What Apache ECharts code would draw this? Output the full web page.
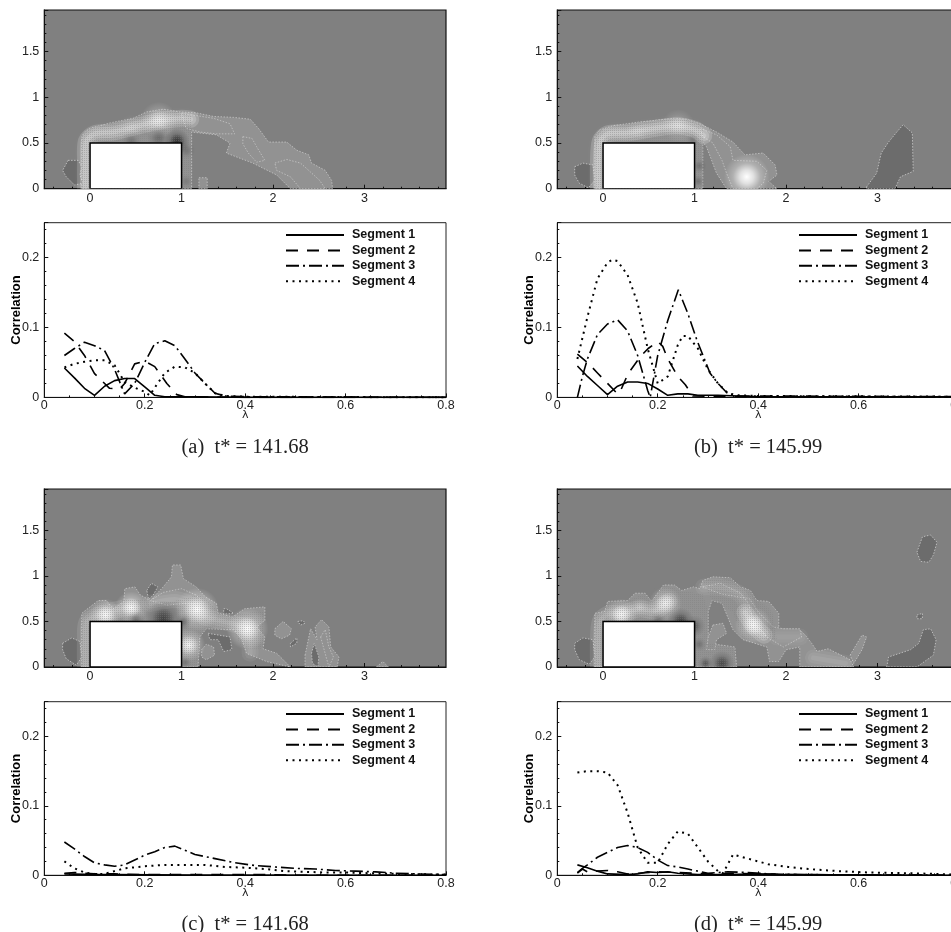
<!DOCTYPE html>
<html><head><meta charset="utf-8">
<style>html,body{margin:0;padding:0;background:#fff}#c{width:951px;height:932px}</style>
<script src="https://cdn.jsdelivr.net/npm/echarts@6/dist/echarts.min.js"></script></head>
<body><div id="c"></div>
<script>
// ---------- correlation curves: [lambda, correlation] ----------
const a1=[[.04,.042],[.06,.028],[.08,.013],[.10,.003],[.12,.016],[.14,.024],[.16,.027],[.18,.027],[.20,.015],[.22,.003],[.24,.001],[.30,.001],[.35,.0005],[.4,0],[.8,0]];
const a2=[[.04,.092],[.06,.08],[.08,.06],[.10,.034],[.13,.013],[.15,.012],[.16,.02],[.18,.048],[.20,.052],[.22,.044],[.244,.02],[.264,.004],[.28,.001],[.4,0],[.8,0]];
const a3=[[.04,.06],[.06,.07],[.08,.079],[.10,.074],[.12,.067],[.14,.04],[.16,.005],[.18,.02],[.20,.05],[.22,.077],[.24,.081],[.26,.074],[.28,.055],[.30,.035],[.32,.02],[.34,.006],[.36,.002],[.4,.001],[.8,0]];
const a4=[[.04,.043],[.06,.048],[.08,.051],[.10,.053],[.12,.053],[.14,.046],[.16,.022],[.18,.014],[.20,.008],[.21,.003],[.22,.014],[.24,.035],[.26,.044],[.28,.043],[.30,.035],[.32,.02],[.34,.006],[.36,.002],[.4,.001],[.8,0]];
const b1=[[.04,.045],[.06,.03],[.08,.017],[.10,.004],[.12,.016],[.14,.022],[.16,.022],[.18,.02],[.20,.012],[.22,.003],[.24,.005],[.26,.005],[.28,.003],[.32,.003],[.36,.002],[.4,.001],[.8,.001]];
const b2=[[.04,.062],[.06,.05],[.08,.035],[.10,.02],[.12,.005],[.125,.008],[.141,.034],[.165,.058],[.181,.07],[.20,.08],[.21,.073],[.22,.055],[.24,.03],[.255,.018],[.27,.002],[.4,.001],[.8,.001]];
const b3=[[.04,0],[.05,.03],[.06,.055],[.08,.09],[.10,.105],[.12,.111],[.14,.095],[.16,.06],[.18,.01],[.185,0],[.19,.02],[.20,.06],[.22,.11],[.241,.154],[.26,.12],[.278,.082],[.304,.035],[.32,.02],[.34,.005],[.36,.002],[.4,.002],[.8,.001]];
const b4=[[.04,.055],[.06,.115],[.08,.17],[.10,.193],[.11,.197],[.12,.195],[.14,.175],[.16,.135],[.18,.07],[.20,.02],[.22,.03],[.24,.075],[.25,.088],[.26,.088],[.28,.07],[.30,.04],[.32,.02],[.34,.006],[.36,.003],[.4,.002],[.8,.001]];
const c1=[[.04,.002],[.1,.001],[.14,.001],[.3,.0005],[.8,0]];
const c2=[[.04,.003],[.06,.004],[.1,.002],[.14,.002],[.2,.001],[.3,.001],[.44,.001],[.5,0],[.8,0]];
const c3=[[.04,.048],[.06,.038],[.08,.027],[.10,.018],[.12,.015],[.14,.013],[.16,.015],[.18,.022],[.20,.029],[.22,.034],[.24,.04],[.26,.042],[.28,.036],[.30,.03],[.34,.024],[.38,.018],[.42,.014],[.46,.012],[.5,.01],[.54,.009],[.58,.007],[.62,.006],[.66,.005],[.7,.003],[.74,.002],[.8,.001]];
const c4=[[.04,.02],[.06,.01],[.08,.004],[.10,.002],[.12,.002],[.14,.006],[.16,.01],[.2,.013],[.24,.015],[.28,.015],[.32,.015],[.36,.012],[.4,.011],[.44,.009],[.48,.006],[.52,.005],[.56,.004],[.6,.004],[.7,.002],[.8,.001]];
const d1=[[.04,.015],[.06,.011],[.08,.006],[.10,.002],[.14,.001],[.16,.002],[.18,.005],[.2,.004],[.22,.005],[.24,.003],[.28,.001],[.34,.001],[.4,.002],[.44,.001],[.8,0]];
const d2=[[.04,.003],[.05,.009],[.06,.005],[.08,.006],[.10,.007],[.12,.005],[.14,.002],[.16,.003],[.2,.005],[.24,.004],[.3,.002],[.35,.003],[.4,.002],[.5,.001],[.8,0]];
const d3=[[.04,.004],[.05,.01],[.06,.015],[.08,.026],[.10,.033],[.12,.04],[.14,.043],[.16,.04],[.18,.033],[.2,.022],[.22,.014],[.24,.012],[.26,.009],[.3,.003],[.34,.005],[.38,.004],[.42,.002],[.5,.001],[.8,0]];
const d4=[[.04,.148],[.06,.15],[.08,.15],[.10,.148],[.12,.13],[.14,.09],[.16,.04],[.18,.018],[.2,.018],[.22,.045],[.24,.063],[.26,.06],[.28,.04],[.30,.02],[.32,.006],[.33,.003],[.35,.03],[.38,.024],[.42,.016],[.46,.012],[.5,.009],[.56,.006],[.62,.004],[.7,.003],[.8,.001]];
const segmentNames=['Segment 1','Segment 2','Segment 3','Segment 4'];
const captions=['(a)  t* = 141.68','(b)  t* = 145.99','(c)  t* = 141.68','(d)  t* = 145.99'];

// ---------- field contours (x/h, y/h) ----------
const aLight=[
 [[-.09,0],[-.09,.57],[-.06,.62],[0,.66],[.22,.72],[.47,.77],[.62,.84],[.80,.87],[.98,.84],[1.16,.83],[1.35,.79],[1.57,.78],[1.75,.76],[1.84,.66],[1.95,.51],[2.15,.51],[2.26,.42],[2.39,.37],[2.42,.28],[2.57,.20],[2.64,.09],[2.65,0],[2.19,0],[2.04,.15],[1.78,.28],[1.49,.39],[1.53,.50],[1.38,.59],[1.20,.61],[1.11,.62],[1.11,0]],
 [[1.0,.82],[1.16,.80],[1.35,.77],[1.53,.71],[1.58,.6],[1.38,.6],[1.2,.62],[1.05,.66]],
 [[1.67,.57],[1.77,.55],[1.82,.46],[1.91,.31],[1.82,.29],[1.73,.39],[1.67,.49]],
 [[2.02,.28],[2.15,.32],[2.30,.28],[2.39,.20],[2.51,.09],[2.57,0],[2.30,0],[2.19,.13],[2.04,.2]],
 [[1.19,.12],[1.28,.12],[1.28,0],[1.19,0]]];
const aDark=[[[-.24,.31],[-.13,.31],[-.09,.24],[-.11,.15],[-.08,.06],[-.17,.04],[-.26,.13],[-.30,.20]]];
const aRidge=[[.85,[-.05,0],[-.05,.3],[-.04,.52],[.05,.6],[.25,.62],[.5,.68],[.75,.74],[1,.77],[1.1,.76]]];
const aGlow=[[.75,.75,.2,.6],[.45,.67,.14,.15],[.95,.52,.14,-.65],[.75,.56,.13,-.28],[.45,.52,.11,-.2],[1.05,.42,.1,-.2],[1.05,.08,.08,-.15]];
const aMesh=[[[-.09,0],[-.09,.57],[-.06,.62],[0,.66],[.22,.72],[.47,.77],[.62,.84],[.8,.87],[.98,.84],[1.11,.8],[1.11,0],[1,0],[1,.5],[0,.5],[0,0]]];
const bLight=[
 [[-.09,0],[-.09,.57],[-.04,.64],[.11,.69],[.40,.73],[.77,.77],[.91,.76],[1.06,.71],[1.24,.62],[1.42,.51],[1.55,.37],[1.75,.39],[1.88,.26],[1.90,.15],[1.81,.08],[1.90,0],[1.35,0],[1.24,.17],[1.13,.46],[1.09,.51],[1.09,0]],
 [[1.06,.66],[1.24,.59],[1.39,.46],[1.42,.31],[1.68,.3],[1.79,.2],[1.75,.06],[1.68,0],[1.42,0],[1.35,.17],[1.30,.31],[1.2,.5],[1.09,.57]]];
const bDark=[
 [[-.31,.24],[-.22,.28],[-.11,.26],[-.09,.09],[-.16,.01],[-.26,.06],[-.31,.15]],
 [[2.88,.02],[2.99,.17],[3.04,.39],[3.12,.51],[3.21,.62],[3.28,.70],[3.38,.61],[3.39,.19],[3.25,.13],[3.19,0],[2.88,0]]];
const bRidge=[[.9,[-.05,0],[-.05,.3],[-.03,.52],[.05,.6],[.25,.61],[.5,.65],[.8,.69],[1,.65],[1.1,.58]]];
const bGlow=[[.82,.69,.18,.4],[.38,.63,.13,.15],[1.57,.13,.25,1],[1.05,.25,.08,-.22],[1.04,.08,.07,-.22],[.98,.53,.07,-.15]];
const bMesh=[[[-.09,0],[-.09,.57],[-.04,.64],[.11,.69],[.4,.73],[.77,.77],[.91,.76],[1.09,.69],[1.09,0],[1,0],[1,.5],[0,.5],[0,0]]];
const cLight=[
 [[-.09,0],[-.09,.59],[.09,.73],[.18,.73],[.25,.64],[.37,.72],[.38,.86],[.49,.88],[.55,.79],[.66,.73],[.80,.88],[.89,.99],[.90,1.12],[.99,1.12],[1.02,.97],[1.16,.88],[1.26,.77],[1.38,.70],[1.40,.59],[1.56,.55],[1.69,.64],[1.91,.66],[1.91,.51],[1.82,.44],[1.91,.33],[1.89,.20],[2.04,.15],[2.19,0],[1.93,.06],[1.71,.15],[1.66,.30],[1.57,.41],[1.27,.42],[1.2,.33],[1.18,0]],
 [[.66,.73],[.80,.82],[1.0,.86],[1.16,.79],[1.24,.70],[1.05,.70],[.84,.68]],
 [[1.22,.19],[1.27,.25],[1.35,.22],[1.36,.13],[1.27,.08],[1.22,.11]],
 [[2.02,.42],[2.11,.50],[2.2,.42],[2.18,.35],[2.09,.31],[2.02,.35]],
 [[2.35,.13],[2.41,.42],[2.48,.30],[2.46,.44],[2.53,.52],[2.61,.44],[2.63,.22],[2.72,.11],[2.70,0],[2.35,0]],
 [[2.52,.33],[2.57,.41],[2.61,.22],[2.66,.11],[2.61,0],[2.55,.22]],
 [[3.13,0],[3.2,.06],[3.26,0]]];
const cDark=[
 [[-.30,.26],[-.20,.32],[-.11,.28],[-.09,.11],[-.15,.02],[-.26,.09],[-.3,.19]],
 [[.62,.84],[.67,.92],[.74,.88],[.69,.79],[.64,.74]],
 [[1.29,.37],[1.53,.33],[1.55,.19],[1.46,.17],[1.40,.30],[1.31,.30]],
 [[2.19,.26],[2.26,.32],[2.26,.26],[2.19,.22]],
 [[2.27,.50],[2.33,.51],[2.35,.48],[2.30,.46]],
 [[2.42,.15],[2.45,.26],[2.50,.11],[2.49,0],[2.43,.04]],
 [[1.46,.64],[1.49,.64],[1.57,.59],[1.46,.58]]];
const cRidge=[[.5,[-.05,0],[-.05,.3],[-.03,.5],[.17,.6],[.45,.66]],[.4,[.66,.7],[.95,.74],[1.15,.66]],[.5,[1.25,.55],[1.5,.49],[1.72,.44]],[.28,[1.75,.35],[1.75,.15]]];
const cGlow=[[.17,.57,.18,.9],[.45,.65,.18,.9],[1.17,.63,.24,.95],[1.72,.42,.23,.95],[1.08,.24,.18,.9],[.8,.53,.2,-.55],[.5,.52,.1,-.3],[1.02,.5,.09,-.3],[1.04,.05,.07,-.2]];
const cMesh=[[[-.09,0],[-.09,.59],[.09,.73],[.25,.66],[.37,.75],[.66,.73],[.9,.72],[1.2,.8],[1.4,.62],[1.6,.58],[1.9,.62],[1.9,.2],[1.66,.2],[1.57,.41],[1.27,.42],[1.2,.33],[1.18,0],[1,0],[1,.5],[0,.5],[0,0]]];
const dLight=[
 [[-.09,0],[-.09,.59],[.02,.61],[.05,.72],[.27,.73],[.35,.81],[.46,.81],[.53,.72],[.66,.9],[.78,.9],[.86,.84],[.99,.88],[1.06,.86],[1.09,.95],[1.2,.99],[1.39,.98],[1.5,.88],[1.61,.84],[1.68,.73],[1.81,.72],[1.92,.59],[1.92,.42],[2.15,.41],[2.21,.35],[2.28,.26],[2.34,.17],[2.46,.2],[2.7,.08],[2.74,0],[2.15,0],[2.15,.22],[2.0,.19],[1.92,.06],[1.82,.06],[1.79,.22],[1.53,.3],[1.42,.41],[1.30,.7],[1.19,.73],[1.15,.61],[1.15,.26],[1.44,.22],[1.46,0]],
 [[1.09,.88],[1.28,.92],[1.5,.81],[1.59,.7],[1.64,.51],[1.79,.33],[1.97,.22],[2.17,.33],[2.15,.42],[1.97,.42],[1.86,.44],[1.7,.6],[1.6,.75],[1.3,.8]],
 [[1.2,.46],[1.31,.48],[1.35,.37],[1.24,.3],[1.22,.19],[1.13,.19],[1.15,.33]],
 [[2.7,.13],[2.83,.35],[2.88,.33],[2.83,.19],[2.74,.04]]];
const dDark=[
 [[-.31,.26],[-.22,.32],[-.11,.3],[-.09,.11],[-.15,.03],[-.26,.08],[-.31,.19]],
 [[3.43,1.26],[3.49,1.43],[3.58,1.45],[3.65,1.37],[3.61,1.23],[3.56,1.15],[3.47,1.16]],
 [[3.43,.57],[3.49,.59],[3.49,.53],[3.43,.53]],
 [[3.1,0],[3.12,.11],[3.36,.19],[3.45,.26],[3.5,.41],[3.58,.42],[3.64,.3],[3.61,.13],[3.43,0]]];
const dRidge=[[.5,[-.05,0],[-.05,.3],[-.03,.5],[.05,.58],[.2,.58]],[.6,[.2,.58],[.4,.64],[.57,.62],[.72,.72]],[.3,[1.1,.88],[1.3,.87],[1.5,.8],[1.58,.65]],[.8,[1.55,.6],[1.66,.44],[1.76,.35]],[.22,[1.9,.33],[2.15,.33]],[.3,[2.3,.1],[2.65,.04]]];
const dGlow=[[.2,.58,.17,.75],[.4,.66,.1,.25],[.68,.7,.18,.75],[1.64,.46,.2,.85],[.85,.5,.15,-.55],[.6,.52,.09,-.2],[1.0,.45,.12,-.35],[1.3,.04,.14,-.5],[1.12,.04,.08,-.4],[1.05,.25,.08,-.22]];
const dMesh=[[[-.09,0],[-.09,.59],[.02,.61],[.05,.72],[.27,.73],[.46,.81],[.66,.9],[.86,.84],[1.09,.8],[1.15,.61],[1.15,.26],[1.44,.22],[1.46,0],[1,0],[1,.5],[0,.5],[0,0]],[[1.09,.95],[1.39,.98],[1.61,.84],[1.85,.6],[1.9,.3],[1.53,.3],[1.42,.6],[1.19,.73]]];
const blockBounds=[[0,0,1,.5]];
const fieldMajorX=[0,1,2,3], fieldMinorX=[-.4,-.2,.2,.4,.6,.8,1.2,1.4,1.6,1.8,2.2,2.4,2.6,2.8,3.2,3.4,3.6,3.8];

// ---------- layout ----------
const cols=[44.3,557.3], W=401.7;
const rows=[{ft:10,fh:178.7,ct:222.7,ch:174.7,lt:228.5,cap:437},{ft:489,fh:178,ct:701.7,ch:173.6,lt:707.5,cap:914.5}];
const font='"Liberation Sans",Arial,sans-serif';
const panels=[
 {c:0,r:0,curves:[a1,a2,a3,a4],light:aLight,dark:aDark,ridge:aRidge,glow:aGlow,mesh:aMesh},
 {c:1,r:0,curves:[b1,b2,b3,b4],light:bLight,dark:bDark,ridge:bRidge,glow:bGlow,mesh:bMesh},
 {c:0,r:1,curves:[c1,c2,c3,c4],light:cLight,dark:cDark,ridge:cRidge,glow:cGlow,mesh:cMesh},
 {c:1,r:1,curves:[d1,d2,d3,d4],light:dLight,dark:dDark,ridge:dRidge,glow:dGlow,mesh:dMesh}];
const dashes=['solid',[12,9],[13,4,2,4],[2,4.5]];
const ink='#111', grey='#222';
const opt={animation:false,backgroundColor:'#fff',grid:[],xAxis:[],yAxis:[],series:[],legend:[],title:[]};
const meshTile=document.createElement('canvas');meshTile.width=2;meshTile.height=2;
(function(){const g=meshTile.getContext('2d');g.fillStyle='rgba(128,128,128,.4)';g.fillRect(0,0,1,1);})();

function polySeries(list,x,y,style){return {type:'custom',xAxisIndex:x,yAxisIndex:y,clip:true,silent:true,
 encode:{x:0,y:1},data:list.map((p,i)=>[p[0][0],p[0][1],i]),
 renderItem:(pr,api)=>({type:'polygon',shape:{points:list[api.value(2)].map(q=>api.coord(q))},style})};}
const ridgePasses=[[17,.2],[11,.22],[5,.22]];
function ridgeSeries(list,x,y){return {type:'custom',xAxisIndex:x,yAxisIndex:y,clip:true,silent:true,
 encode:{x:0,y:1},data:list.map((p,i)=>[p[1][0],p[1][1],i]),
 renderItem:(pr,api)=>{const it=list[api.value(2)],pts=it.slice(1).map(q=>api.coord(q));
  return {type:'group',children:ridgePasses.map(([w,k])=>{const col=`rgba(255,255,255,${it[0]*k})`;
   return {type:'polyline',shape:{points:pts,smooth:.3},
    style:{fill:null,stroke:col,lineWidth:w,lineCap:'round',lineJoin:'round',shadowBlur:6,shadowColor:col}};})};}};}
function glowSeries(list,x,y){return {type:'custom',xAxisIndex:x,yAxisIndex:y,clip:true,silent:true,
 encode:{x:0,y:1},data:list,
 renderItem:(pr,api)=>{const c=api.coord([api.value(0),api.value(1)]),r=api.size([api.value(2),0])[0],a=api.value(3),
  rgb=a>0?'255,255,255':'0,0,0',k=Math.abs(a);
  return {type:'circle',shape:{cx:c[0],cy:c[1],r},style:{fill:{type:'radial',x:.5,y:.5,r:.5,colorStops:[
   {offset:0,color:`rgba(${rgb},${k})`},{offset:.3,color:`rgba(${rgb},${k*.72})`},{offset:.6,color:`rgba(${rgb},${k*.28})`},{offset:1,color:`rgba(${rgb},0)`}]}}};}};}
function blockSeries(x,y){return {type:'custom',xAxisIndex:x,yAxisIndex:y,clip:true,silent:true,encode:{x:0,y:1},data:blockBounds,z:5,
 renderItem:(pr,api)=>{const p=api.coord([api.value(0),api.value(3)]),q=api.coord([api.value(2),api.value(1)]);
  return {type:'rect',shape:{x:p[0],y:p[1],width:q[0]-p[0],height:q[1]-p[1]},style:{fill:'#fff',stroke:'#000',lineWidth:1.5}};}};}

panels.forEach((p,i)=>{
 const L=cols[p.c],R=rows[p.r];
 const gF=opt.grid.length; 
 opt.grid.push({left:L,top:R.ft,width:W,height:R.fh,outerBoundsMode:'none',show:true,backgroundColor:'#808080',borderColor:ink,borderWidth:1.2});
 const gC=opt.grid.length;
 opt.grid.push({left:L,top:R.ct,width:W,height:R.ch,outerBoundsMode:'none',show:true,backgroundColor:'#fff',borderColor:grey,borderWidth:1});
 const xF=opt.xAxis.length;
 opt.xAxis.push({gridIndex:gF,type:'value',min:-.5,max:3.89,position:'bottom',splitLine:{show:false},
  axisLine:{onZero:false,lineStyle:{color:ink}},
  axisTick:{inside:true,length:4,lineStyle:{color:ink},customValues:fieldMajorX},
  axisLabel:{customValues:fieldMajorX,color:grey,fontFamily:font,fontSize:12.5,margin:3,formatter:v=>String(v)}});
 opt.xAxis.push({gridIndex:gF,type:'value',min:-.5,max:3.89,position:'bottom',splitLine:{show:false},
  axisLine:{show:false,onZero:false},axisLabel:{show:false},
  axisTick:{inside:true,length:2,lineStyle:{color:ink},customValues:fieldMinorX}});
 const yF=opt.yAxis.length;
 opt.yAxis.push({gridIndex:gF,type:'value',min:0,max:1.955,interval:.5,splitLine:{show:false},
  axisLine:{show:true,onZero:false,lineStyle:{color:ink}},axisTick:{show:true,inside:true,length:4,lineStyle:{color:ink}},
  minorTick:{show:true,splitNumber:5,length:2,lineStyle:{color:ink}},
  axisLabel:{color:grey,fontFamily:font,fontSize:12.5,margin:5,showMaxLabel:false,formatter:v=>String(v)}});
 const contour={stroke:'#bcbcbc',lineWidth:1,lineDash:[1.5,1.5]};
 opt.series.push(polySeries(p.light,xF,yF,{fill:'#929292',...contour}));
 opt.series.push(polySeries(p.dark,xF,yF,{fill:'#6c6c6c',...contour}));
 opt.series.push(ridgeSeries(p.ridge,xF,yF));
 opt.series.push(glowSeries(p.glow,xF,yF));
 opt.series.push(polySeries(p.mesh,xF,yF,{fill:{image:meshTile,repeat:'repeat'}}));
 opt.series.push(blockSeries(xF,yF));
 const xC=opt.xAxis.length;
 opt.xAxis.push({gridIndex:gC,type:'value',min:0,max:.8,interval:.2,splitLine:{show:false},
  name:'λ',nameLocation:'middle',nameGap:12,nameMoveOverlap:false,nameTextStyle:{fontFamily:'"DejaVu Sans",sans-serif',fontSize:11,color:grey},
  axisLine:{onZero:false,lineStyle:{color:ink,width:1.2}},axisTick:{inside:true,length:4,lineStyle:{color:ink}},
  minorTick:{show:true,splitNumber:4,length:2,lineStyle:{color:ink}},
  axisLabel:{color:grey,fontFamily:font,fontSize:12.5,margin:2,formatter:v=>String(v)}});
 const yC=opt.yAxis.length;
 opt.yAxis.push({gridIndex:gC,type:'value',min:0,max:.25,interval:.1,splitLine:{show:false},
  name:'Correlation',nameLocation:'middle',nameGap:21.5,nameMoveOverlap:false,nameTextStyle:{fontFamily:font,fontWeight:'bold',fontSize:13,color:'#000'},
  axisLine:{show:true,onZero:false,lineStyle:{color:ink}},axisTick:{show:true,inside:true,length:4,lineStyle:{color:ink}},
  minorTick:{show:true,splitNumber:5,length:2,lineStyle:{color:ink}},
  axisLabel:{color:grey,fontFamily:font,fontSize:12.5,margin:5,showMaxLabel:false,formatter:v=>String(v)}});
 p.curves.forEach((d,k)=>opt.series.push({type:'line',name:segmentNames[k],xAxisIndex:xC,yAxisIndex:yC,data:d,symbol:'none',
  lineStyle:{color:'#000',width:k===3?2:1.6,type:dashes[k]},itemStyle:{color:'#000'},silent:true,clip:true}));
 opt.legend.push({show:true,selectedMode:false,data:segmentNames,orient:'vertical',left:L+240.7,top:R.lt,itemWidth:58,itemHeight:14,itemGap:1.4,itemGap:2.4,
  padding:0,itemStyle:{opacity:0},textStyle:{fontFamily:font,fontWeight:'bold',fontSize:12.5,color:'#111',padding:[0,0,0,3]}});
 opt.title.push({text:captions[i],left:L+200.8,top:R.cap,textAlign:'center',padding:0,
  textStyle:{fontFamily:'"Liberation Serif",serif',fontWeight:'normal',fontSize:20.5,color:'#222'}});
});
const ch=echarts.init(document.getElementById('c'),null,{renderer:'canvas'});
ch.setOption(opt);
</script></body></html>
